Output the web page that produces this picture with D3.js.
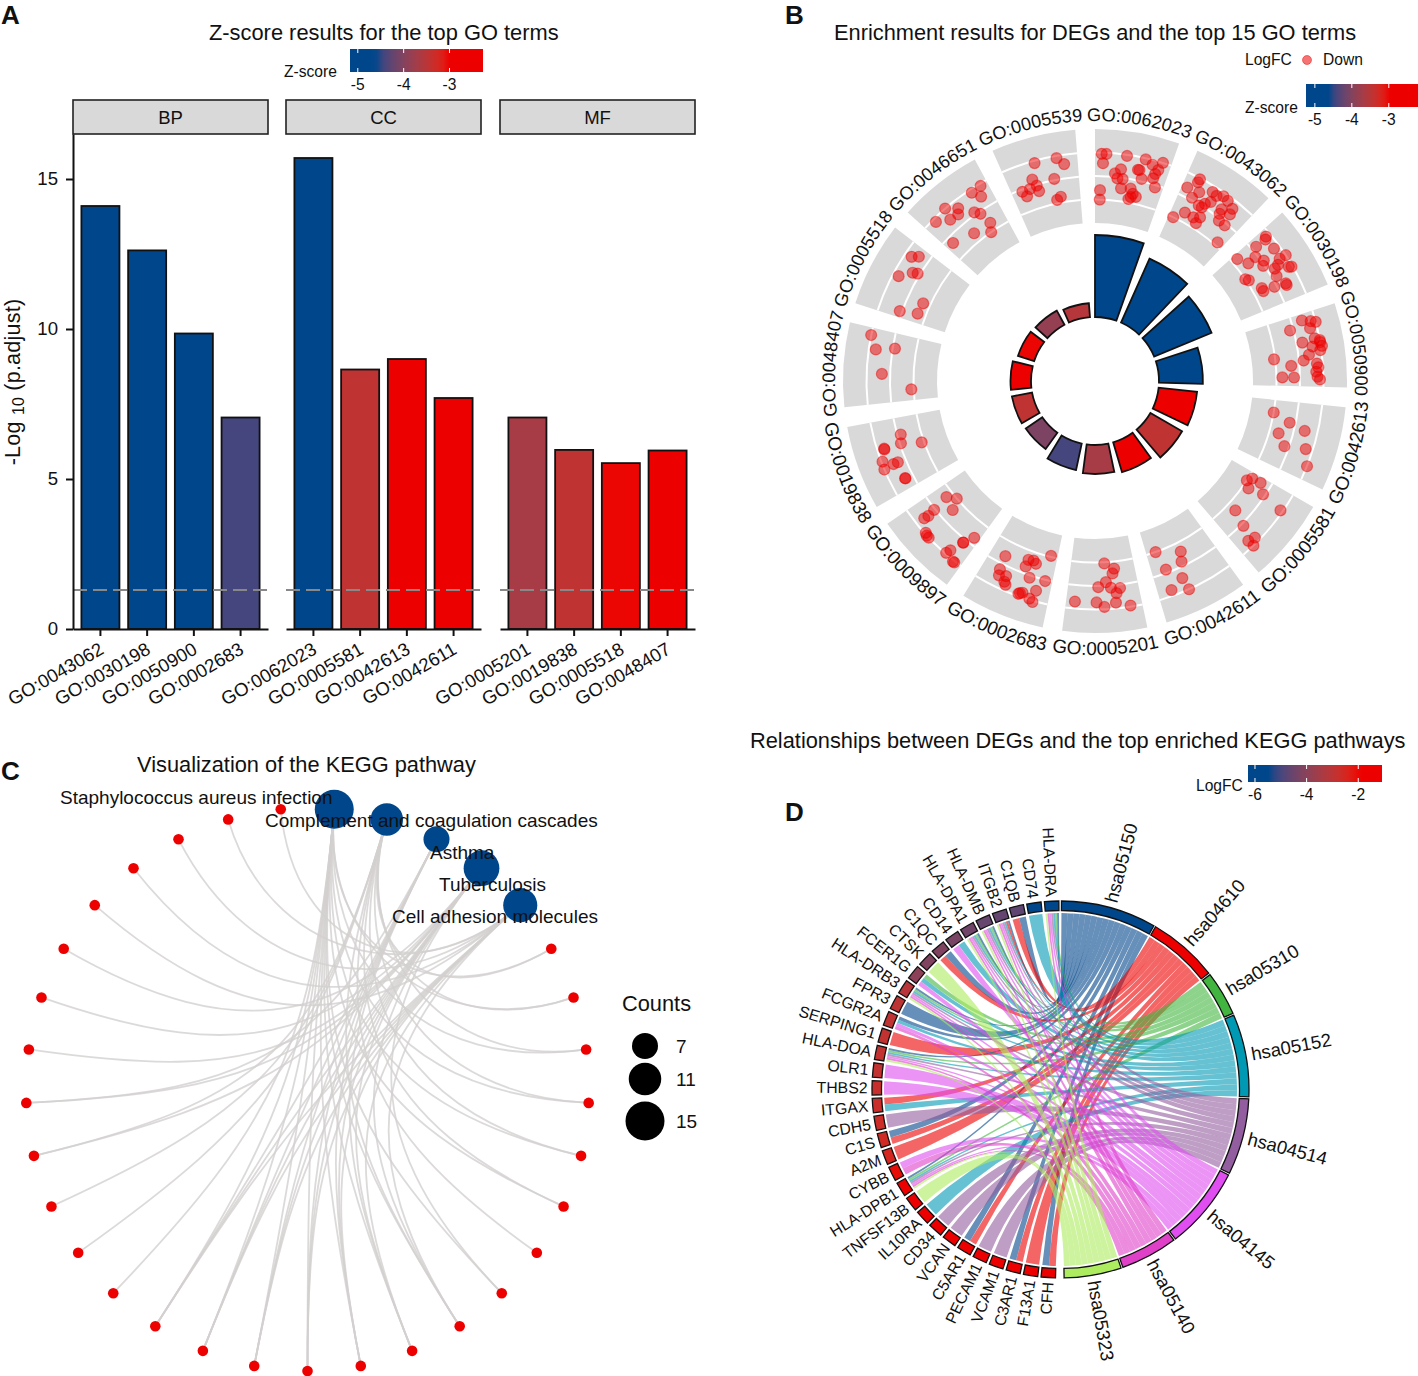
<!DOCTYPE html>
<html><head><meta charset="utf-8">
<script src="https://cdnjs.cloudflare.com/ajax/libs/d3/7.8.5/d3.min.js"></script>
<style>
html,body{margin:0;padding:0;background:#fff}
svg{display:block}
text{font-family:"Liberation Sans",Arial,sans-serif;fill:#111}
</style></head><body>
<svg id="c" width="1418" height="1376" viewBox="0 0 1418 1376"></svg>
<script>
// ---------- data ----------
const facets = ["BP","CC","MF"];
const termsBP = ["GO:0043062","GO:0030198","GO:0050900","GO:0002683"];
const termsCC = ["GO:0062023","GO:0005581","GO:0042613","GO:0042611"];
const termsMF = ["GO:0005201","GO:0019838","GO:0005518","GO:0048407"];
const padjBP = [14.1,12.62,9.85,7.05];
const padjCC = [15.7,8.65,9.0,7.7];
const padjMF = [7.05,5.97,5.53,5.95];
const zBP = [-5.2,-5.0,-4.9,-4.42];
const zCC = [-5.1,-3.45,-2.8,-2.5];
const zMF = [-3.68,-3.45,-3.02,-2.8];
const yTicks = [0,5,10,15];
const zTicks = [-5,-4,-3];
const fcTicks = [-6,-4,-2];

const circleTerms = ["GO:0062023","GO:0043062","GO:0030198","GO:0050900","GO:0042613","GO:0005581","GO:0042611","GO:0005201","GO:0002683","GO:0009897","GO:0019838","GO:0048407","GO:0005518","GO:0046651","GO:0005539"];
const circleBars = [15.7,13.4,11.9,8.4,7.4,7.0,5.96,5.55,5.17,3.83,3.93,3.93,3.26,3.07,2.68];
const circleZ = [-5.1,-5.2,-5.0,-4.9,-2.8,-3.45,-2.5,-3.68,-4.42,-4.05,-3.45,-2.8,-3.02,-3.85,-3.55];
// genes of each term: [degrees into the term's sector, logFC]
const dots0062023 = [[1.7,-2.1],[2.9,-2.1],[2.1,-2.9],[8.1,-2.1],[12.9,-2.1],[14.9,-2.4],[16.7,-2.7],[17.3,-2.0],[5.5,-3.7],[7,-3.3],[11.5,-3.1],[6.3,-4.1],[7.8,-4.1],[13,-3.8],[16,-3.5],[16.2,-3.1],[17.2,-4.2],[1.5,-5.2],[1.5,-6.0],[7.7,-4.9],[10.5,-4.8],[11.4,-5.2],[12.5,-5.4],[10.4,-5.7],[11,-5.5],[11.9,-3.1]];
const dots0043062 = [[3.5,-2.1],[3.4,-2.4],[1.5,-3.2],[4.9,-3.1],[3.9,-3.8],[7.9,-2.5],[9.3,-2.6],[10.8,-2.3],[12.4,-2.4],[8.9,-3.3],[6.6,-4.1],[7.6,-4.1],[7.8,-3.7],[14.6,-2.7],[12.4,-3.3],[12.7,-3.7],[15,-3.2],[4.1,-5.2],[1.5,-6],[7,-5.2],[8.7,-4.9],[8.6,-5.5],[13.7,-4.2],[15.8,-4.2],[17.5,-5.7]];
const dots0030198 = [[1.8,-2.4],[2.3,-2.6],[2.2,-3.6],[5.5,-2.5],[8.6,-2],[4.3,-4.2],[1.4,-5.5],[6.5,-3.8],[7.6,-4.1],[4.5,-5],[8.5,-2.6],[9.6,-3],[10,-3.4],[11.5,-2.3],[11.8,-2.1],[12,-3.6],[7.9,-6],[8.8,-5.8],[12.9,-5.2],[13.9,-5.2],[14.3,-4.2],[14.9,-3.2],[15.4,-3.2]];
const dots0050900 = [[1.7,-3.1],[2.5,-2.4],[3,-2],[4.2,-2.6],[3.5,-4.3],[7,-2.4],[7.7,-2],[8.2,-2],[9.2,-1.9],[7.5,-3.5],[9,-2.7],[10.2,-2.1],[11,-3.1],[12.4,-3.6],[11.1,-6.1],[13.5,-2.5],[14.5,-2.4],[15.6,-2.6],[16.9,-2.5],[17.6,-2.3],[13.6,-4.7],[16.9,-5.5],[17,-4.5]];
const dots0042613 = [[4,-6],[6.1,-4.5],[9.9,-5.2],[7.4,-3.1],[13,-4.4],[11.9,-2.6],[15.9,-2]];
const dots0005581 = [[3.2,-6],[1.8,-5.7],[5,-5.5],[1.6,-4.9],[4,-4.2],[4.9,-2.2],[12.7,-5.2],[14.3,-3.8],[16.2,-2.6],[14.4,-2.4],[16.1,-2]];
const dots0042611 = [[16.5,-6],[9.3,-5.2],[10.4,-4.4],[15.4,-4.3],[12.1,-3.1],[15.9,-2.5],[11.7,-2]];
const dots0005201 = [[9.1,-5.9],[6.2,-5.4],[6.8,-5],[8.9,-4.3],[11.1,-3.9],[7.6,-3.8],[5.1,-3.7],[6.2,-3.3],[17.2,-2.6],[11.6,-2.6],[9.6,-2.2],[6.6,-2.5],[3,-2.1]];
const dots0002683 = [[15.1,-4.7],[8.4,-5.2],[6.9,-5.3],[5.9,-5.1],[8.5,-4.6],[2.1,-6.1],[14.8,-3.5],[14.3,-3],[12.5,-3.2],[6.4,-3.8],[12.3,-2.7],[2,-3.9],[11.7,-2.5],[3.7,-2.9],[7.5,-2.3],[6.9,-2.4],[7.8,-2.2],[4.8,-2.1],[3.8,-1.9]];
const dots0009897 = [[16,-5.4],[13.6,-6],[15.3,-3.9],[11.8,-5.1],[15,-3.2],[15.2,-2.8],[1.6,-4.6],[3.2,-3.7],[3.2,-3.7],[12.1,-2.1],[11.4,-2],[10.7,-2],[4.5,-2.5],[4.9,-2.1],[2.2,-1.9],[1.8,-1.9]];
const dots0019838 = [[14.6,-4.3],[12.2,-4.1],[10.5,-5.8],[12.2,-2.6],[12,-2.6],[9.2,-2.1],[7.6,-2.9],[7.6,-3.3],[7.2,-2],[2.9,-3.3],[2.8,-3.3]];
const dots0048407 = [[17.6,-2],[14.2,-2.6],[15.2,-4.2],[7.9,-3.3],[3.4,-5.8]];
const dots0005518 = [[16.1,-2.6],[17.2,-3.1],[10.1,-2.5],[12.7,-3.4],[13.2,-3.8],[6.3,-5.4],[1.7,-3.8],[2.8,-5.3]];
const dots0046651 = [[17.6,-2.2],[14.8,-2.3],[16.3,-3],[7,-2],[9.6,-2.7],[8.6,-3.1],[6.1,-3],[12.4,-3.8],[13.6,-4.2],[3,-2.3],[14.5,-5.3],[13.1,-6],[8.7,-5.2],[2.2,-4.6]];
const dots0005539 = [[8.5,-2.2],[14.2,-2.2],[15.9,-2.8],[6.7,-3.5],[12.6,-3.9],[7.4,-4.1],[5.3,-4.2],[3,-4.2],[7.6,-4.6],[3.8,-4.7],[13.5,-5.5],[12.2,-5.7]];
const circleDots = [dots0062023,dots0043062,dots0030198,dots0050900,dots0042613,dots0005581,dots0042611,dots0005201,dots0002683,dots0009897,dots0019838,dots0048407,dots0005518,dots0046651,dots0005539];
const fcGrid = [-6,-4,-2];

const chordGenes = ["HLA-DRA","CD74","C1QB","ITGB2","HLA-DMB","HLA-DPA1","CD14","C1QC","CTSK","FCER1G","HLA-DRB3","FPR3","FCGR2A","SERPING1","HLA-DOA","OLR1","THBS2","ITGAX","CDH5","C1S","A2M","CYBB","HLA-DPB1","TNFSF13B","IL10RA","CD34","VCAN","C5AR1","PECAM1","VCAM1","C3AR1","F13A1","CFH"];
const chordFC = [-6.2,-5.5,-4.7,-4.65,-4.6,-4.45,-4.3,-4.2,-4.2,-3.95,-3.1,-3.0,-2.95,-2.9,-2.9,-2.9,-2.8,-2.75,-2.7,-2.6,-2.5,-2.1,-2.0,-1.95,-1.9,-1.85,-1.8,-1.75,-1.7,-1.65,-1.6,-1.5,-1.4];
const pathIds = ["hsa05150","hsa04610","hsa05310","hsa05152","hsa04514","hsa04145","hsa05140","hsa05323"];
const pathColors = ["#00468B","#ED0000","#42B540","#0099B4","#925E9F","#E04DF0","#E03FC8","#ADEB5F"];
const hsa05150 = ["HLA-DRA","C1QB","ITGB2","HLA-DMB","HLA-DPA1","C1QC","HLA-DRB3","FPR3","FCGR2A","HLA-DOA","C1S","HLA-DPB1","C5AR1","C3AR1","CFH"];
const hsa04610 = ["C1QB","ITGB2","C1QC","SERPING1","ITGAX","C1S","A2M","C5AR1","C3AR1","F13A1","CFH"];
const hsa05310 = ["HLA-DRA","HLA-DMB","HLA-DPA1","FCER1G","HLA-DRB3","HLA-DOA","HLA-DPB1"];
const hsa05152 = ["HLA-DRA","CD74","ITGB2","HLA-DMB","HLA-DPA1","CD14","FCER1G","HLA-DRB3","FCGR2A","HLA-DOA","ITGAX","HLA-DPB1","IL10RA"];
const hsa04514 = ["HLA-DRA","ITGB2","HLA-DMB","HLA-DPA1","HLA-DRB3","HLA-DOA","CDH5","HLA-DPB1","CD34","VCAN","PECAM1","VCAM1"];
const hsa04145 = ["HLA-DRA","ITGB2","HLA-DMB","HLA-DPA1","CD14","FCER1G","HLA-DRB3","FCGR2A","HLA-DOA","OLR1","THBS2","CYBB","HLA-DPB1"];
const hsa05140 = ["HLA-DRA","ITGB2","HLA-DMB","HLA-DPA1","HLA-DRB3","FCGR2A","HLA-DOA","CYBB","HLA-DPB1"];
const hsa05323 = ["HLA-DRA","ITGB2","HLA-DMB","HLA-DPA1","CTSK","HLA-DRB3","HLA-DOA","HLA-DPB1","TNFSF13B"];
const pathGenes = [hsa05150,hsa04610,hsa05310,hsa05152,hsa04514,hsa04145,hsa05140,hsa05323];

const keggNames = ["Staphylococcus aureus infection","Complement and coagulation cascades","Asthma","Tuberculosis","Cell adhesion molecules"];
const cnetGenes = ["C1QC","C1QB","CFH","C1S","C3AR1","C5AR1","A2M","FCGR2A","ITGB2","HLA-DRA","HLA-DMB","HLA-DPA1","HLA-DRB3","HLA-DOA","HLA-DPB1","FPR3","SERPING1","F13A1","ITGAX","FCER1G","CD74","CD14","IL10RA","CDH5","CD34","VCAN","PECAM1","VCAM1"];
const countLegend = [7,11,15];

// ---------- shared ----------
const svg = d3.select("#c");
const BLUE="#00468B", RED="#ED0000";
const zColor = d3.scaleLinear().domain([-4.6,-3]).range([BLUE,RED]).interpolate(d3.interpolateLab).clamp(true);
const fcColor = d3.scaleLinear().domain([-5.4,-2]).range([BLUE,RED]).interpolate(d3.interpolateLab).clamp(true);
const defs = svg.append("defs");
function txt(g,x,y,s,size,anchor,extra){
  const t=g.append("text").attr("x",x).attr("y",y).attr("font-size",size).attr("text-anchor",anchor||"start").text(s);
  if(extra) t.attr("font-weight",extra);
  return t;
}
function legendBar(id,x0,x1,y0,y1,dom,colorFn,ticks,title,titleX,titleY){
  const g=svg.append("g");
  const sc=d3.scaleLinear().domain(dom).range([x0,x1]);
  const gr=defs.append("linearGradient").attr("id",id);
  d3.range(0,1.0001,0.05).forEach(f=>gr.append("stop").attr("offset",f).attr("stop-color",colorFn(dom[0]+f*(dom[1]-dom[0]))));
  g.append("rect").attr("x",x0).attr("y",y0).attr("width",x1-x0).attr("height",y1-y0).attr("fill",`url(#${id})`);
  ticks.forEach(t=>{
    const X=sc(t);
    g.append("line").attr("x1",X).attr("x2",X).attr("y1",y0).attr("y2",y0+4).attr("stroke","#fff");
    g.append("line").attr("x1",X).attr("x2",X).attr("y1",y1-4).attr("y2",y1).attr("stroke","#fff");
    txt(g,X,y1+18,String(t),15.6,"middle");
  });
  txt(g,titleX,titleY,title,15.6,"start");
}
// panel letters
[["A",1,24],["B",785,24],["C",1,780],["D",785,821]].forEach(d=>txt(svg,d[1],d[2],d[0],26,"start","bold"));

// ---------- Panel A ----------
const gA=svg.append("g");
const yA=d3.scaleLinear().domain([0,16.5]).range([629,134]);
txt(gA,209,40,"Z-score results for the top GO terms",21.85);
legendBar("gA",350,483,49,72,[-5.17,-2.27],zColor,zTicks,"Z-score",284,77);
const facetX=[[73,268],[286,481],[500,695]];
const facetTerms=[termsBP,termsCC,termsMF], facetVals=[padjBP,padjCC,padjMF], facetZ=[zBP,zCC,zMF];
facets.forEach((f,k)=>{
  const [x0,x1]=facetX[k];
  gA.append("rect").attr("x",x0).attr("y",100).attr("width",x1-x0).attr("height",34).attr("fill","#D9D9D9").attr("stroke","#222").attr("stroke-width",1.6);
  txt(gA,(x0+x1)/2,124,f,18.5,"middle");
  const xb=d3.scaleBand().domain(facetTerms[k]).range([x0,x1]).paddingInner(.186).paddingOuter(.18);
  gA.selectAll(null).data(facetTerms[k]).join("rect")
    .attr("x",d=>xb(d)).attr("width",xb.bandwidth())
    .attr("y",(d,i)=>yA(facetVals[k][i])).attr("height",(d,i)=>yA(0)-yA(facetVals[k][i]))
    .attr("fill",(d,i)=>zColor(facetZ[k][i])).attr("stroke","#111").attr("stroke-width",1.8);
  gA.append("line").attr("x1",x0).attr("x2",x1).attr("y1",yA(1.3)).attr("y2",yA(1.3)).attr("stroke","#888").attr("stroke-width",2).attr("stroke-dasharray","14 6");
  const ax=gA.append("g").attr("transform","translate(0,629)").call(d3.axisBottom(xb).tickSize(7).tickSizeOuter(0));
  ax.select(".domain").attr("stroke","#111").attr("stroke-width",2);
  ax.selectAll(".tick line").attr("stroke","#111").attr("stroke-width",2);
  ax.selectAll(".tick text").attr("font-size",18.6).attr("font-family",'"Liberation Sans",Arial,sans-serif').attr("fill","#111")
    .attr("text-anchor","end").attr("transform","translate(0,16) rotate(-30)").attr("x",0).attr("y",9).attr("dy","0");
});
const axY=gA.append("g").attr("transform","translate(73,0)").call(d3.axisLeft(yA).tickValues(yTicks).tickSize(7).tickSizeOuter(0));
axY.select(".domain").attr("stroke","#111").attr("stroke-width",2);
axY.selectAll(".tick line").attr("stroke","#111").attr("stroke-width",2);
axY.selectAll(".tick text").attr("font-size",18.6).attr("font-family",'"Liberation Sans",Arial,sans-serif').attr("fill","#111").attr("x",-15);
const yt=gA.append("text").attr("transform","translate(20,382) rotate(-90)").attr("text-anchor","middle").attr("font-size",21.6).attr("letter-spacing",.2);
yt.append("tspan").text("-Log ");
yt.append("tspan").attr("font-size",16).attr("dy",4).text("10");
yt.append("tspan").attr("dy",-4).text(" (p.adjust)");

// ---------- Panel B ----------
const gB=svg.append("g").attr("transform","translate(1095,381)");
const rad=d=>d*Math.PI/180;
const SEC=24, SPAN=19.5;
const rFC=d3.scaleLinear().domain([-8,0]).range([158,252]);
const rBar=d3.scaleLinear().domain([0,15.7]).range([64,146]);
const arc=d3.arc();
circleTerms.forEach((t,i)=>{
  const a0=rad(i*SEC), a1=rad(i*SEC+SPAN);
  gB.append("path").attr("d",arc({innerRadius:rFC(-8),outerRadius:rFC(0),startAngle:a0,endAngle:a1})).attr("fill","#D9D9D9");
  fcGrid.forEach(v=>gB.append("path").attr("d",arc({innerRadius:rFC(v)-1,outerRadius:rFC(v)+1,startAngle:a0,endAngle:a1})).attr("fill","#fff"));
  gB.append("path").attr("d",arc({innerRadius:rBar(0),outerRadius:rBar(circleBars[i]),startAngle:a0,endAngle:a1}))
    .attr("fill",zColor(circleZ[i])).attr("stroke","#111").attr("stroke-width",1.8);
  gB.selectAll(null).data(circleDots[i]).join("circle")
    .attr("cx",d=>rFC(d[1])*Math.sin(rad(i*SEC+d[0]))).attr("cy",d=>-rFC(d[1])*Math.cos(rad(i*SEC+d[0])))
    .attr("r",5.5).attr("fill",RED).attr("fill-opacity",.5).attr("stroke",RED).attr("stroke-opacity",.45).attr("stroke-width",1.2);
  // curved label
  const mid=i*SEC+SPAN/2;
  const cw=(mid<90||mid>270);
  const R=cw?260:274;
  const p=d3.path();
  const m=rad(mid-90);
  if(cw) p.arc(0,0,R,m-0.6,m+0.6,false); else p.arc(0,0,R,m+0.6,m-0.6,true);
  defs.append("path").attr("id","lab"+i).attr("d",p.toString());
  gB.append("text").attr("font-size",cw?18.2:18.9).append("textPath").attr("href","#lab"+i).attr("startOffset","50%").attr("text-anchor","middle").text(t);
});
txt(svg,834,40,"Enrichment results for DEGs and the top 15 GO terms",21.8);
txt(svg,1245,65,"LogFC",15.6);
svg.append("circle").attr("cx",1307).attr("cy",60).attr("r",4.5).attr("fill",RED).attr("fill-opacity",.55).attr("stroke",RED).attr("stroke-opacity",.45);
txt(svg,1323,65,"Down",15.6);
legendBar("gB",1306,1418,84,107,[-5.24,-2.21],zColor,zTicks,"Z-score",1245,113);

// ---------- Panel C ----------
const gC=svg.append("g");
txt(gC,137,772,"Visualization of the KEGG pathway",21.8);
const cx=307.5, cy=1089.5, cR=281.5, nAll=keggNames.length+cnetGenes.length;
const nodeAngle=d3.scaleLinear().domain([0,nAll]).range([rad(360/nAll/2),rad(360+360/nAll/2)]);
const nodeXY=i=>[cx+cR*Math.sin(nodeAngle(i)),cy-cR*Math.cos(nodeAngle(i))];
const rCount=d3.scaleLinear().domain([7,15]).range([13,19.5]);
const arcPull=d3.scaleLinear().domain([.55,.87]).range([.5,.85]).clamp(true);
const edges=[];
keggNames.forEach((n,h)=>pathGenes[h].forEach(g=>edges.push([h,keggNames.length+cnetGenes.indexOf(g)])));
gC.selectAll(null).data(edges).join("path")
  .attr("d",e=>{
    const A=nodeXY(e[1]),B=nodeXY(e[0]);
    const chord=Math.hypot(A[0]-B[0],A[1]-B[1]);
    const s=arcPull(chord/(2*cR));
    const p=d3.path();
    p.moveTo(A[0],A[1]);
    p.bezierCurveTo(A[0]+s*(cx-A[0]),A[1]+s*(cy-A[1]),B[0]+s*(cx-B[0]),B[1]+s*(cy-B[1]),B[0],B[1]);
    return p.toString();
  }).attr("fill","none").attr("stroke","#D3CFCF").attr("stroke-width",1.8).attr("stroke-opacity",.8);
gC.selectAll(null).data(cnetGenes).join("circle")
  .attr("cx",(d,i)=>nodeXY(i+keggNames.length)[0]).attr("cy",(d,i)=>nodeXY(i+keggNames.length)[1]).attr("r",5.3).attr("fill",RED);
gC.selectAll(null).data(keggNames).join("circle")
  .attr("cx",(d,i)=>nodeXY(i)[0]).attr("cy",(d,i)=>nodeXY(i)[1]).attr("r",(d,i)=>rCount(pathGenes[i].length)).attr("fill",BLUE);
const keggLabelPos=[[60,804],[265,827],[430,859],[439,891],[392,923]];
keggNames.forEach((n,i)=>txt(gC,keggLabelPos[i][0],keggLabelPos[i][1],n,19));
txt(gC,622,1011,"Counts",21.8);
const legY=d3.scaleOrdinal().domain(countLegend).range([1046,1079,1121]);
countLegend.forEach(c=>{
  gC.append("circle").attr("cx",645).attr("cy",legY(c)).attr("r",rCount(c)).attr("fill","#000");
  txt(gC,676,legY(c)+7,String(c),19);
});

// ---------- Panel D ----------
const gD=svg.append("g").attr("transform","translate(1060.5,1089.5)");
txt(svg,750,748,"Relationships between DEGs and the top enriched KEGG pathways",21.8);
legendBar("gD",1248,1382,765,782,[-6.27,-1.08],fcColor,fcTicks,"LogFC",1196,791);
const rRib=176.5, rIn=179, rOut=188.5;
const total=d3.sum(pathGenes,p=>p.length), gap=.6;
const perCount=(178.9-.3-gap*(pathGenes.length-1))/total;
let cur=.3;
const pathSpan=pathGenes.map(p=>{const s=[cur,cur+p.length*perCount];cur=s[1]+gap;return s;});
const gStep=179/chordGenes.length, gW=4.4;
const geneSpan=chordGenes.map((g,i)=>{const e=359.5-i*gStep;return [e-gW,e];});
const pt=(r,d)=>[r*Math.sin(rad(d)),-r*Math.cos(rad(d))];
// ribbons
const ribbons=[];
pathGenes.forEach((list,pi)=>{
  const ordered=chordGenes.filter(g=>list.includes(g));
  ordered.forEach((g,k)=>{
    const w=(pathSpan[pi][1]-pathSpan[pi][0])/ordered.length;
    const gi=chordGenes.indexOf(g);
    const members=d3.range(pathGenes.length).filter(q=>pathGenes[q].includes(g)).reverse();
    const m=members.indexOf(pi);
    const gw=(geneSpan[gi][1]-geneSpan[gi][0])/members.length;
    ribbons.push({pi,a0:pathSpan[pi][0]+k*w,a1:pathSpan[pi][0]+(k+1)*w,g0:geneSpan[gi][0]+m*gw,g1:geneSpan[gi][0]+(m+1)*gw});
  });
});
gD.selectAll(null).data(ribbons).join("path")
  .attr("d",r=>{
    const p=d3.path();
    const A0=pt(rRib,r.a0);
    p.moveTo(A0[0],A0[1]);
    p.arc(0,0,rRib,rad(r.a0-90),rad(r.a1-90),false);
    const G0=pt(rRib,r.g0);
    p.quadraticCurveTo(0,0,G0[0],G0[1]);
    p.arc(0,0,rRib,rad(r.g0-90),rad(r.g1-90),false);
    p.quadraticCurveTo(0,0,A0[0],A0[1]);
    p.closePath();
    return p.toString();
  }).attr("fill",r=>pathColors[r.pi]).attr("fill-opacity",.6);
pathIds.forEach((id,i)=>{
  const [a,b]=pathSpan[i];
  gD.append("path").attr("d",arc({innerRadius:rIn,outerRadius:rOut,startAngle:rad(a),endAngle:rad(b)})).attr("fill",pathColors[i]).attr("stroke","#111").attr("stroke-width",1.3);
  const m=(a+b)/2, P=pt(194,m);
  gD.append("text").attr("transform",`translate(${P[0]},${P[1]}) rotate(${m-90})`).attr("dy",".35em").attr("font-size",18.5).text(id);
});
chordGenes.forEach((g,i)=>{
  const [a,b]=geneSpan[i];
  gD.append("path").attr("d",arc({innerRadius:rIn,outerRadius:rOut,startAngle:rad(a),endAngle:rad(b)})).attr("fill",fcColor(chordFC[i])).attr("stroke","#111").attr("stroke-width",1.3);
  const m=(a+b)/2, P=pt(193,m);
  gD.append("text").attr("transform",`translate(${P[0]},${P[1]}) rotate(${m-270})`).attr("dy",".35em").attr("text-anchor","end").attr("font-size",15.8).text(g);
});
</script>
</body></html>
